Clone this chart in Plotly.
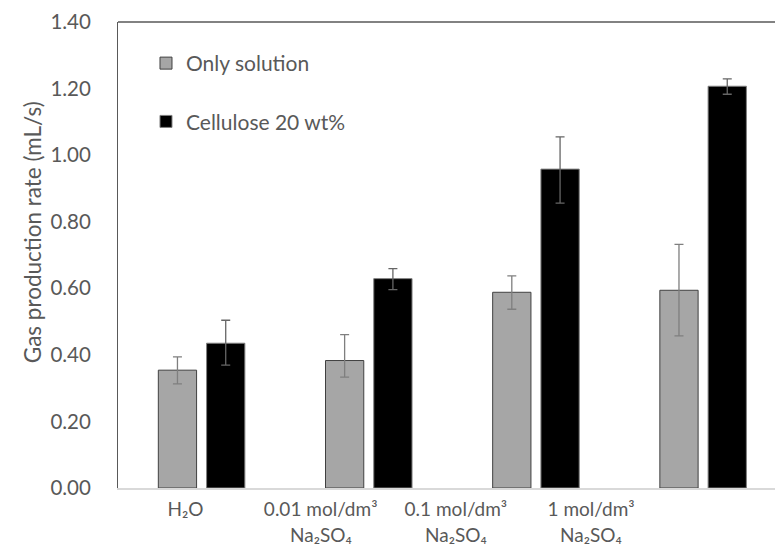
import plotly.graph_objects as go

categories = ["H₂O", "0.01 mol/dm³", "0.1 mol/dm³", "1 mol/dm³"]
label_line1 = ["H₂O", "0.01 mol/dm³", "0.1 mol/dm³", "1 mol/dm³"]
label_line2 = ["", "Na₂SO₄", "Na₂SO₄", "Na₂SO₄"]

only_solution = [0.354, 0.383, 0.588, 0.594]
only_err_plus = [0.040, 0.078, 0.049, 0.138]
only_err_minus = [0.041, 0.050, 0.051, 0.137]

cellulose = [0.435, 0.629, 0.958, 1.207]
cell_err_plus = [0.069, 0.030, 0.097, 0.022]
cell_err_minus = [0.066, 0.033, 0.102, 0.024]

y_ticks = [0.0, 0.2, 0.4, 0.6, 0.8, 1.0, 1.2, 1.4]
y_title = "Gas production rate (mL/s)"

FONT = "Lato, 'Open Sans', sans-serif"
TXT = "#595959"

fig = go.Figure()
fig.add_trace(go.Bar(
    x=categories, y=only_solution, name="Only solution",
    marker=dict(color="#a6a6a6", line=dict(color="#404040", width=1)),
    error_y=dict(type="data", symmetric=False, array=only_err_plus,
                 arrayminus=only_err_minus, color="#7f7f7f", thickness=1.3, width=4.5),
    legendgroup="a",
))
fig.add_trace(go.Bar(
    x=categories, y=cellulose, name="Cellulose 20 wt%",
    marker=dict(color="#000000", line=dict(color="#7f7f7f", width=1)),
    error_y=dict(type="data", symmetric=False, array=cell_err_plus,
                 arrayminus=cell_err_minus, color="#666666", thickness=1.3, width=4.5),
    legendgroup="b",
))
# invisible trace to carry the label axis
fig.add_trace(go.Scatter(x=list(range(len(label_line1))), y=[None] * len(label_line1),
                         xaxis="x2", showlegend=False, hoverinfo="skip"))

for i, t in enumerate(label_line2):
    if t:
        fig.add_annotation(x=i, xref="x2", y=-0.1, yref="paper", text=t,
                           showarrow=False, yanchor="middle", xanchor="center",
                           font=dict(family=FONT, size=19, color=TXT))

fig.add_annotation(x=-0.13, xref="paper", y=0.548, yref="paper", text=y_title,
                   textangle=-90, showarrow=False, xanchor="center", yanchor="middle",
                   font=dict(family=FONT, size=22.5, color=TXT))

fig.update_layout(
    width=775, height=558,
    margin=dict(l=118, r=0, t=22, b=70),
    paper_bgcolor="white", plot_bgcolor="white",
    barmode="group", bargap=0.4226, bargroupgap=0.207,
    font=dict(family=FONT, color=TXT, size=19),
    showlegend=True,
    legend=dict(x=0.0426, y=0.955, xanchor="left", yanchor="top",
                traceorder="grouped", tracegroupgap=28,
                font=dict(family=FONT, size=21, color=TXT),
                bgcolor="rgba(0,0,0,0)"),
    xaxis=dict(type="category", range=[-0.5, 3.43], showticklabels=False,
               ticks="", showline=True, linecolor="#d9d9d9", linewidth=1.5,
               showgrid=False, zeroline=False),
    xaxis2=dict(overlaying="x", anchor="y", side="bottom", range=[-0.499, 4.36],
                tickmode="array", tickvals=list(range(len(label_line1))),
                ticktext=label_line1, showline=False, showgrid=False,
                zeroline=False, ticks="", ticklabelstandoff=8,
                tickfont=dict(family=FONT, size=19, color=TXT)),
    yaxis=dict(range=[0, 1.4], tickmode="array", tickvals=y_ticks,
               tickformat=".2f", showline=True, linecolor="#595959", linewidth=1,
               showgrid=False, zeroline=False, ticks="", ticklabelstandoff=22,
               tickfont=dict(family=FONT, size=20.5, color=TXT)),
    shapes=[dict(type="line", xref="paper", yref="paper", x0=0, x1=1, y0=1, y1=1,
                 line=dict(color="#595959", width=1.5))],
)

fig.write_html("out.html")
